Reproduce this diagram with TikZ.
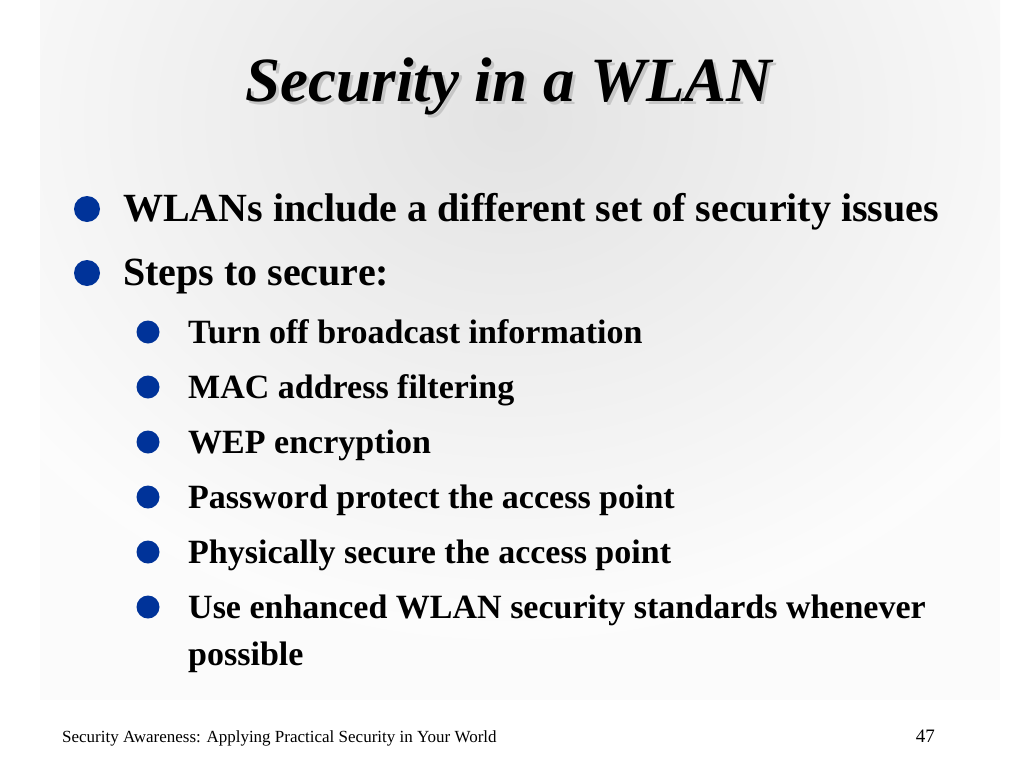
\documentclass[tikz,border=0pt]{standalone}
\usepackage{fontspec}
\setmainfont{Liberation Serif}
\usepackage{tikz}
\usetikzlibrary{shapes,backgrounds,positioning,calc}

\definecolor{bulletblue}{RGB}{0,51,153}
\tikzset{
  toptext/.style={anchor=base west,inner sep=0pt,font=\fontsize{40}{44}\selectfont\bfseries},
  subtext/.style={anchor=base west,inner sep=0pt,font=\fontsize{34}{38}\selectfont\bfseries},
  topdot/.style={circle,fill=bulletblue,inner sep=0pt,minimum size=26pt},
  subdot/.style={circle,fill=bulletblue,inner sep=0pt,minimum size=23pt},
  titletext/.style={anchor=base,inner sep=0pt,font=\fontsize{63}{70}\selectfont\bfseries\itshape}
}

\begin{document}
\begin{tikzpicture}[x=1pt,y=-1pt]
      \useasboundingbox (0,0) rectangle (1024,768);
      \fill[white] (0,0) rectangle (1024,768);
      \begin{scope}
        \clip (40,0) rectangle (1000,700);
        \fill[gray!3] (40,0) rectangle (1000,700);
        \shade[inner color=gray!22,outer color=gray!2] (510,120) ellipse (620 and 520);
      \end{scope}

      % title with its shadow
      \node[titletext,text=gray!45] (shadow) at (512,104) {Security in a WLAN};
      \node[titletext] (title) at (509,101) {Security in a WLAN};

      % first level
      \node[topdot] (d1) at (87,209) {};
      \node[toptext] (b1) at (123,221) {WLANs include a different set of security issues};
      \node[topdot] (d2) at (87,273) {};
      \node[toptext] (b2) at (123,285) {Steps to secure:};

      % second level
      \node[subdot] (e1) at (148,332) {};
      \node[subtext] (s1) at (188,343) {Turn off broadcast information};
      \node[subdot] (e2) at (148,387) {};
      \node[subtext] (s2) at (188,398) {MAC address filtering};
      \node[subdot] (e3) at (148,442) {};
      \node[subtext] (s3) at (188,453) {WEP encryption};
      \node[subdot] (e4) at (148,497) {};
      \node[subtext] (s4) at (188,508) {Password protect the access point};
      \node[subdot] (e5) at (148,552) {};
      \node[subtext] (s5) at (188,563) {Physically secure the access point};
      \node[subdot] (e6) at (148,607) {};
      \node[subtext] (s6) at (188,618) {Use enhanced WLAN security standards whenever};
      \node[subtext] (s6b) at (188,665) {possible};

      % footer
      \node[anchor=base west,inner sep=0pt,font=\fontsize{17}{20}\selectfont] (footer) at (62,742) {Security Awareness: Applying Practical Security in Your World};
      \node[anchor=base east,inner sep=0pt,font=\fontsize{19}{22}\selectfont] (pagenum) at (935,742) {47};
\end{tikzpicture}
\end{document}
